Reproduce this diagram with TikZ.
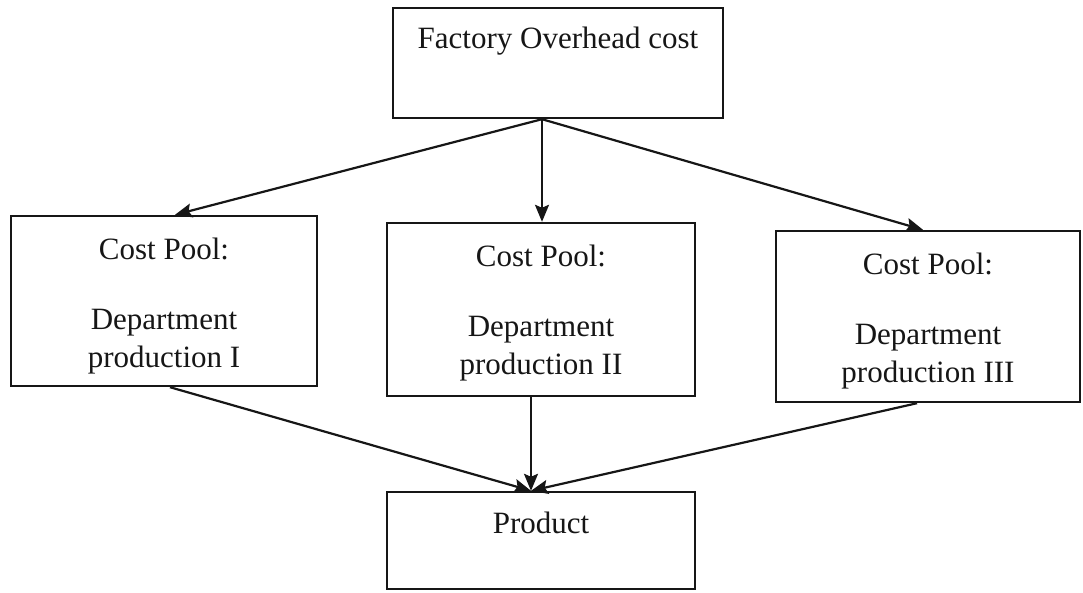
\documentclass[tikz,border=0pt]{standalone}
\usepackage{fontspec}
\setmainfont{Liberation Serif}
\usetikzlibrary{arrows.meta,calc}

\definecolor{ink}{HTML}{161616}

\tikzset{
  x=1pt, y=1pt,
  box/.style={draw=ink, line width=2.4pt, inner sep=0pt, fill=white},
  txt/.style={inner sep=0pt, anchor=base, text=ink, font=\fontsize{31}{38}\selectfont},
  flow/.style={draw=ink, line width=2.2pt, -{Stealth[length=17pt,width=14pt,inset=3pt]}},
}

\begin{document}
\begin{tikzpicture}
  \useasboundingbox (0,0) rectangle (1083,-592);

  % boxes
  \node[box, minimum width=330pt, minimum height=110pt] (top)   at (558,-63)    {};
  \node[box, minimum width=306pt, minimum height=170pt] (left)  at (164,-301)   {};
  \node[box, minimum width=308pt, minimum height=173pt] (mid)   at (541,-309.5) {};
  \node[box, minimum width=304pt, minimum height=171pt] (right) at (928,-316.5) {};
  \node[box, minimum width=308pt, minimum height=97pt]  (prod)  at (541,-540.5) {};

  % labels
  \node[txt] (topT) at ([yshift=-42pt]top.north) {Factory Overhead cost};

  \node[txt] (leftA) at ([yshift=-45pt]left.north)  {Cost Pool:};
  \node[txt] (leftB) at ([yshift=-115pt]left.north) {Department};
  \node[txt] (leftC) at ([yshift=-153pt]left.north) {production I};

  \node[txt] (midA) at ([yshift=-45pt]mid.north)  {Cost Pool:};
  \node[txt] (midB) at ([yshift=-115pt]mid.north) {Department};
  \node[txt] (midC) at ([yshift=-153pt]mid.north) {production II};

  \node[txt] (rightA) at ([yshift=-45pt]right.north)  {Cost Pool:};
  \node[txt] (rightB) at ([yshift=-115pt]right.north) {Department};
  \node[txt] (rightC) at ([yshift=-153pt]right.north) {production III};

  \node[txt] (prodT) at ([yshift=-43pt]prod.north) {Product};

  % connector end points on the box borders
  \coordinate (fork) at ([xshift=-16pt]top.south);
  \coordinate (join) at ([xshift=-10pt]prod.north);

  % overhead distributed to the cost pools
  \draw[flow] (fork) -- ([xshift=11pt]left.north);
  \draw[flow] (fork) -- (fork |- mid.north);
  \draw[flow] (fork) -- ([xshift=-5pt]right.north);

  % cost pools charged to the product
  \draw[flow] ([xshift=6pt]left.south) -- (join);
  \draw[flow] (join |- mid.south) -- (join);
  \draw[flow] ([xshift=-11pt]right.south) -- (join);
\end{tikzpicture}
\end{document}
